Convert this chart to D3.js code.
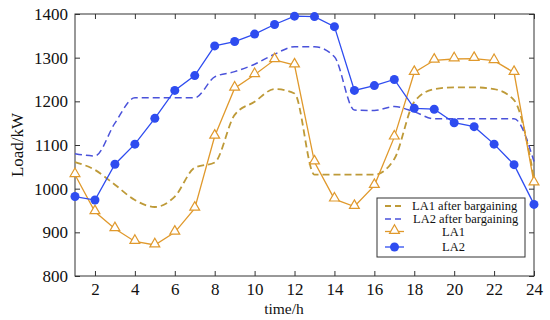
<!DOCTYPE html>
<html><head><meta charset="utf-8">
<script src="https://cdn.jsdelivr.net/npm/d3@7"></script>
<style>body{margin:0;background:#fff}svg{display:block}</style>
</head><body>
<svg id="c" width="550" height="320"></svg>
<script>
const hours = d3.range(1, 25);
const la1 = [1032, 947, 908, 879, 871, 900, 955, 1120, 1230, 1261, 1295, 1283, 1061, 976, 959, 1007, 1118, 1266, 1294, 1297, 1298, 1293, 1266, 1013];
const la2 = [982, 974, 1056, 1102, 1161, 1225, 1259, 1327, 1337, 1354, 1376, 1395, 1394, 1371, 1225, 1236, 1250, 1184, 1182, 1151, 1142, 1102, 1055, 964];
const la1After = [1061, 1043, 1009, 974, 958, 982, 1048, 1060, 1169, 1199, 1228, 1218, 1032, 1032, 1032, 1032, 1068, 1199, 1228, 1232, 1232, 1228, 1203, 1025];
const la2After = [1080, 1075, 1150, 1208, 1208, 1208, 1208, 1256, 1268, 1285, 1308, 1325, 1325, 1302, 1180, 1179, 1188, 1176, 1160, 1160, 1160, 1160, 1160, 1062];
const xTicks = [2, 4, 6, 8, 10, 12, 14, 16, 18, 20, 22, 24];
const yTicks = [800, 900, 1000, 1100, 1200, 1300, 1400];
const legendLabels = ["LA1 after bargaining", "LA2 after bargaining", "LA1", "LA2"];

const L = 75, R = 534, T = 14, B = 276;
const svg = d3.select("#c");
const x = d3.scaleLinear().domain([1, 24]).range([L, R]);
const y = d3.scaleLinear().domain([800, 1400]).range([B, T]);
const font = "'Liberation Serif','Times New Roman',serif";
const axisCol = "#333";
const orange = "#E0992C", orangeD = "#BE9A38", blue = "#2E4CF0", blueD = "#4A52DA";

function styleAxis(g) {
  g.select(".domain").remove();
  g.selectAll("line").attr("stroke", axisCol);
  g.selectAll("text").attr("font-family", font).attr("font-size", 17).attr("fill", "#111");
}
svg.append("g").attr("transform", `translate(0,${B})`)
  .call(d3.axisBottom(x).tickValues(xTicks).tickSizeInner(-5).tickSizeOuter(0).tickPadding(7).tickFormat(d3.format("d")))
  .call(styleAxis);
svg.append("g").attr("transform", `translate(0,${T})`)
  .call(d3.axisTop(x).tickValues(xTicks).tickSizeInner(-5).tickSizeOuter(0).tickFormat(""))
  .call(styleAxis);
svg.append("g").attr("transform", `translate(${L},0)`)
  .call(d3.axisLeft(y).tickValues(yTicks).tickSizeInner(-5).tickSizeOuter(0).tickPadding(7).tickFormat(d3.format("d")))
  .call(styleAxis);
svg.append("g").attr("transform", `translate(${R},0)`)
  .call(d3.axisRight(y).tickValues(yTicks).tickSizeInner(-5).tickSizeOuter(0).tickFormat(""))
  .call(styleAxis);
svg.append("rect").attr("x", L).attr("y", T).attr("width", R - L).attr("height", B - T)
  .attr("fill", "none").attr("stroke", axisCol).attr("stroke-width", 1);

const lineLin = d3.line().x((d, i) => x(hours[i])).y(d => y(d));
const lineSm = d3.line().x((d, i) => x(hours[i])).y(d => y(d)).curve(d3.curveMonotoneX);
svg.append("path").attr("d", lineSm(la1After)).attr("fill", "none").attr("stroke", orangeD).attr("stroke-width", 1.8).attr("stroke-dasharray", "7,4");
svg.append("path").attr("d", lineSm(la2After)).attr("fill", "none").attr("stroke", blueD).attr("stroke-width", 1.5).attr("stroke-dasharray", "7,4");
svg.append("path").attr("d", lineLin(la1)).attr("fill", "none").attr("stroke", orange).attr("stroke-width", 1.3);
svg.append("path").attr("d", lineLin(la2)).attr("fill", "none").attr("stroke", blue).attr("stroke-width", 1.3);

const tri = d3.symbol().type(d3.symbolTriangle).size(42);
svg.append("g").selectAll("path").data(la1).join("path")
  .attr("d", tri).attr("transform", (d, i) => `translate(${x(hours[i])},${y(d) - 1})`)
  .attr("fill", "#fff").attr("stroke", orange).attr("stroke-width", 1.2);
svg.append("g").selectAll("circle").data(la2).join("circle")
  .attr("cx", (d, i) => x(hours[i])).attr("cy", d => y(d)).attr("r", 4.5).attr("fill", blue);

svg.append("text").attr("x", 284).attr("y", 314).attr("text-anchor", "middle")
  .attr("font-family", font).attr("font-size", 15.5).attr("fill", "#111").text("time/h");
svg.append("text").attr("transform", "translate(23,145) rotate(-90)").attr("text-anchor", "middle")
  .attr("font-family", font).attr("font-size", 17).attr("fill", "#111").text("Load/kW");

const lg = svg.append("g");
lg.append("rect").attr("x", 377).attr("y", 198).attr("width", 148).attr("height", 59)
  .attr("fill", "#fff").attr("stroke", axisCol).attr("stroke-width", 1);
const rowsY = [206, 219, 231.5, 247];
const rowsTx = [412, 413, 442, 442];
const styles = [
  {c: orangeD, dash: "6,4", w: 1.8},
  {c: blueD, dash: "6,4", w: 1.5},
  {c: orange, dash: null, w: 1.3},
  {c: blue, dash: null, w: 1.3}
];
legendLabels.forEach((lab, i) => {
  const s = styles[i];
  lg.append("line").attr("x1", 385).attr("x2", 404).attr("y1", rowsY[i]).attr("y2", rowsY[i])
    .attr("stroke", s.c).attr("stroke-width", s.w).attr("stroke-dasharray", s.dash);
  if (i === 2) lg.append("path").attr("d", tri).attr("transform", `translate(394.5,${rowsY[i] - 1})`)
    .attr("fill", "#fff").attr("stroke", orange).attr("stroke-width", 1.2);
  if (i === 3) lg.append("circle").attr("cx", 394.5).attr("cy", rowsY[i]).attr("r", 4.5).attr("fill", blue);
  lg.append("text").attr("x", rowsTx[i]).attr("y", rowsY[i]).attr("dy", "0.35em")
    .attr("font-family", font).attr("font-size", 12.5).attr("fill", "#111").text(lab);
});
</script>
</body></html>
